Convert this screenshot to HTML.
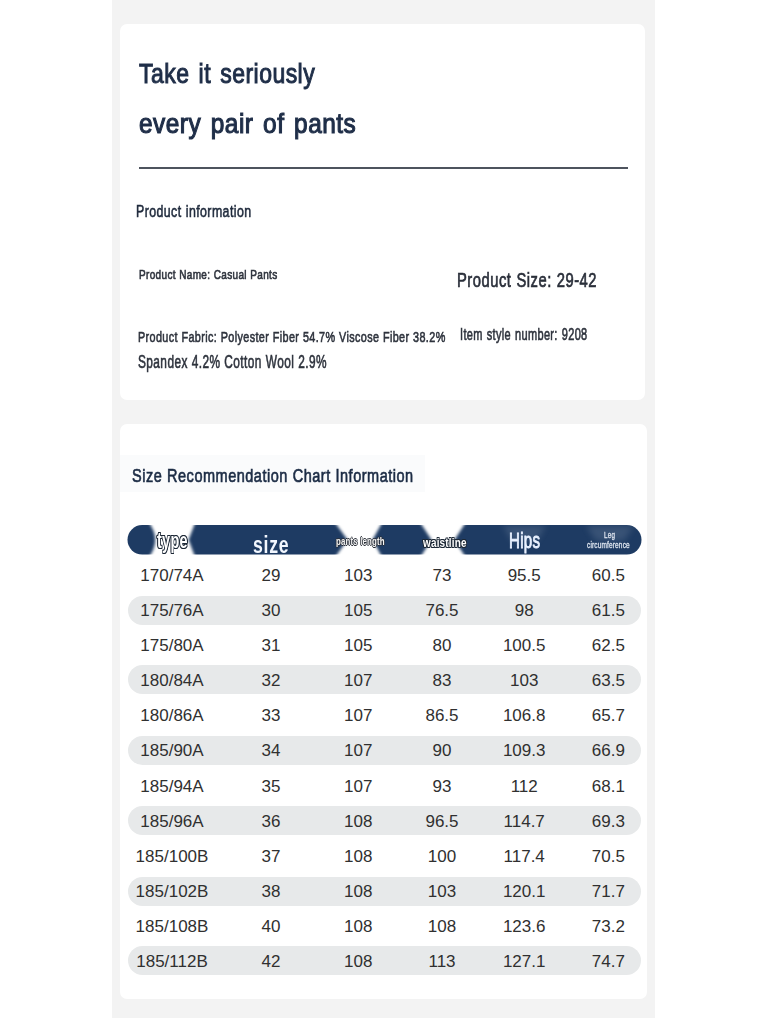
<!DOCTYPE html>
<html><head><meta charset="utf-8"><style>
html,body{margin:0;padding:0;}
body{width:768px;height:1024px;overflow:hidden;background:#ffffff;position:relative;font-family:"Liberation Sans",sans-serif;}
.abs{position:absolute;}
.col{position:absolute;left:112px;top:0;width:543px;height:1018px;background:#f3f3f3;}
.card{position:absolute;background:#ffffff;border-radius:7px;}
.t{position:absolute;white-space:nowrap;transform-origin:0 0;}
.pill{position:absolute;left:127.5px;width:513.5px;height:29px;border-radius:14.5px;background:#e7e9ea;}
.n{position:absolute;width:120px;text-align:center;font-size:17.0px;line-height:17.0px;color:#303030;white-space:nowrap;}
.bar{position:absolute;left:0;top:0;}
</style></head><body>
<div class="col"></div>
<div class="card" style="left:120px;top:23.5px;width:525px;height:376px;"></div>
<div class="card" style="left:120px;top:423.8px;width:527.4px;height:575.2px;"></div>
<div class="abs" style="left:120px;top:455px;width:305px;height:37px;background:#fafbfc;"></div>
<div class="abs" style="left:138.5px;top:167px;width:489.5px;height:2px;background:#4e545e;"></div>
<svg class="bar" width="768" height="1024" viewBox="0 0 768 1024">
<defs><filter id="bl" x="-50%" y="-50%" width="200%" height="200%"><feGaussianBlur stdDeviation="1.5"/></filter><filter id="bl2" x="-50%" y="-50%" width="200%" height="200%"><feGaussianBlur stdDeviation="3"/></filter><clipPath id="barclip"><rect x="127.5" y="525.1" width="514" height="29.4" rx="14.7"/></clipPath></defs>
<rect x="127.5" y="525.1" width="514" height="29.4" rx="14.7" fill="#1e3b63"/>
<g fill="#ffffff" filter="url(#bl)">
<path d="M148.5,522 L195.4,522 L188.6,539.8 L195.4,558 L148.5,558 Q162,539.8 148.5,522 Z"/>
<polygon points="334.6,522 382.5,522 372.5,539.8 382.5,558 334.6,558 347.5,539.8"/>
<polygon points="419.8,522 466,522 454.5,539.8 466,558 419.8,558 431.5,539.8"/>
</g>
<g clip-path="url(#barclip)"><g fill="#9aa8bb" opacity="0.22" filter="url(#bl2)">
<polygon points="503,525.5 546,525.5 537,541 512,541"/>
<polygon points="586,525.5 634,525.5 624,541 596,541"/>
</g></g>
</svg>
<div class="n" style="left:112.00px;top:566.61px">170/74A</div>
<div class="n" style="left:211.00px;top:566.61px">29</div>
<div class="n" style="left:298.20px;top:566.61px">103</div>
<div class="n" style="left:382.00px;top:566.61px">73</div>
<div class="n" style="left:464.20px;top:566.61px">95.5</div>
<div class="n" style="left:548.40px;top:566.61px">60.5</div>
<div class="pill" style="top:595.50px"></div>
<div class="n" style="left:112.00px;top:601.76px">175/76A</div>
<div class="n" style="left:211.00px;top:601.76px">30</div>
<div class="n" style="left:298.20px;top:601.76px">105</div>
<div class="n" style="left:382.00px;top:601.76px">76.5</div>
<div class="n" style="left:464.20px;top:601.76px">98</div>
<div class="n" style="left:548.40px;top:601.76px">61.5</div>
<div class="n" style="left:112.00px;top:636.91px">175/80A</div>
<div class="n" style="left:211.00px;top:636.91px">31</div>
<div class="n" style="left:298.20px;top:636.91px">105</div>
<div class="n" style="left:382.00px;top:636.91px">80</div>
<div class="n" style="left:464.20px;top:636.91px">100.5</div>
<div class="n" style="left:548.40px;top:636.91px">62.5</div>
<div class="pill" style="top:665.40px"></div>
<div class="n" style="left:112.00px;top:672.06px">180/84A</div>
<div class="n" style="left:211.00px;top:672.06px">32</div>
<div class="n" style="left:298.20px;top:672.06px">107</div>
<div class="n" style="left:382.00px;top:672.06px">83</div>
<div class="n" style="left:464.20px;top:672.06px">103</div>
<div class="n" style="left:548.40px;top:672.06px">63.5</div>
<div class="n" style="left:112.00px;top:707.21px">180/86A</div>
<div class="n" style="left:211.00px;top:707.21px">33</div>
<div class="n" style="left:298.20px;top:707.21px">107</div>
<div class="n" style="left:382.00px;top:707.21px">86.5</div>
<div class="n" style="left:464.20px;top:707.21px">106.8</div>
<div class="n" style="left:548.40px;top:707.21px">65.7</div>
<div class="pill" style="top:736.00px"></div>
<div class="n" style="left:112.00px;top:742.36px">185/90A</div>
<div class="n" style="left:211.00px;top:742.36px">34</div>
<div class="n" style="left:298.20px;top:742.36px">107</div>
<div class="n" style="left:382.00px;top:742.36px">90</div>
<div class="n" style="left:464.20px;top:742.36px">109.3</div>
<div class="n" style="left:548.40px;top:742.36px">66.9</div>
<div class="n" style="left:112.00px;top:777.51px">185/94A</div>
<div class="n" style="left:211.00px;top:777.51px">35</div>
<div class="n" style="left:298.20px;top:777.51px">107</div>
<div class="n" style="left:382.00px;top:777.51px">93</div>
<div class="n" style="left:464.20px;top:777.51px">112</div>
<div class="n" style="left:548.40px;top:777.51px">68.1</div>
<div class="pill" style="top:805.80px"></div>
<div class="n" style="left:112.00px;top:812.66px">185/96A</div>
<div class="n" style="left:211.00px;top:812.66px">36</div>
<div class="n" style="left:298.20px;top:812.66px">108</div>
<div class="n" style="left:382.00px;top:812.66px">96.5</div>
<div class="n" style="left:464.20px;top:812.66px">114.7</div>
<div class="n" style="left:548.40px;top:812.66px">69.3</div>
<div class="n" style="left:112.00px;top:847.81px">185/100B</div>
<div class="n" style="left:211.00px;top:847.81px">37</div>
<div class="n" style="left:298.20px;top:847.81px">108</div>
<div class="n" style="left:382.00px;top:847.81px">100</div>
<div class="n" style="left:464.20px;top:847.81px">117.4</div>
<div class="n" style="left:548.40px;top:847.81px">70.5</div>
<div class="pill" style="top:876.50px"></div>
<div class="n" style="left:112.00px;top:882.96px">185/102B</div>
<div class="n" style="left:211.00px;top:882.96px">38</div>
<div class="n" style="left:298.20px;top:882.96px">108</div>
<div class="n" style="left:382.00px;top:882.96px">103</div>
<div class="n" style="left:464.20px;top:882.96px">120.1</div>
<div class="n" style="left:548.40px;top:882.96px">71.7</div>
<div class="n" style="left:112.00px;top:918.11px">185/108B</div>
<div class="n" style="left:211.00px;top:918.11px">40</div>
<div class="n" style="left:298.20px;top:918.11px">108</div>
<div class="n" style="left:382.00px;top:918.11px">108</div>
<div class="n" style="left:464.20px;top:918.11px">123.6</div>
<div class="n" style="left:548.40px;top:918.11px">73.2</div>
<div class="pill" style="top:945.60px"></div>
<div class="n" style="left:112.00px;top:953.26px">185/112B</div>
<div class="n" style="left:211.00px;top:953.26px">42</div>
<div class="n" style="left:298.20px;top:953.26px">108</div>
<div class="n" style="left:382.00px;top:953.26px">113</div>
<div class="n" style="left:464.20px;top:953.26px">127.1</div>
<div class="n" style="left:548.40px;top:953.26px">74.7</div>
<div class="t" style="left:139.00px;top:59.91px;font-size:27.14px;line-height:27.14px;transform:scaleX(0.8485);color:#1f2e48;font-weight:normal;letter-spacing:0.02em;-webkit-text-stroke:1.0px #1f2e48;word-spacing:0.1em;">Take it seriously</div>
<div class="t" style="left:138.80px;top:111.33px;font-size:26.73px;line-height:26.73px;transform:scaleX(0.9127);color:#1f2e48;font-weight:normal;letter-spacing:0.02em;-webkit-text-stroke:1.1px #1f2e48;word-spacing:0.1em;">every pair of pants</div>
<div class="t" style="left:135.60px;top:203.03px;font-size:17.15px;line-height:17.15px;transform:scaleX(0.7206);color:#1f2a3c;font-weight:normal;letter-spacing:0.035em;-webkit-text-stroke:0.62px #1f2a3c;word-spacing:0.02em;">Product information</div>
<div class="t" style="left:139.00px;top:268.71px;font-size:12.82px;line-height:12.82px;transform:scaleX(0.7800);color:#2e333d;font-weight:normal;letter-spacing:0.035em;-webkit-text-stroke:0.62px #2e333d;word-spacing:0.02em;">Product Name: Casual Pants</div>
<div class="t" style="left:456.60px;top:270.49px;font-size:20.91px;line-height:20.91px;transform:scaleX(0.7060);color:#2a2f3a;font-weight:normal;letter-spacing:0.035em;-webkit-text-stroke:0.7px #2a2f3a;word-spacing:0.02em;">Product Size: 29-42</div>
<div class="t" style="left:138.00px;top:330.26px;font-size:14.96px;line-height:14.96px;transform:scaleX(0.7228);color:#2e333d;font-weight:normal;letter-spacing:0.035em;-webkit-text-stroke:0.62px #2e333d;word-spacing:0.02em;">Product Fabric: Polyester Fiber 54.7% Viscose Fiber 38.2%</div>
<div class="t" style="left:138.00px;top:354.03px;font-size:17.91px;line-height:17.91px;transform:scaleX(0.6627);color:#2e333d;font-weight:normal;letter-spacing:0.035em;-webkit-text-stroke:0.62px #2e333d;word-spacing:0.02em;">Spandex 4.2% Cotton Wool 2.9%</div>
<div class="t" style="left:460.00px;top:326.67px;font-size:15.83px;line-height:15.83px;transform:scaleX(0.6947);color:#2e333d;font-weight:normal;letter-spacing:0.03em;-webkit-text-stroke:0.62px #2e333d;word-spacing:0.06em;">Item style number: 9208</div>
<div class="t" style="left:132.20px;top:466.84px;font-size:18.89px;line-height:18.89px;transform:scaleX(0.7683);color:#1c2c45;font-weight:normal;letter-spacing:0.035em;-webkit-text-stroke:0.68px #1c2c45;word-spacing:0.02em;">Size Recommendation Chart Information</div>
<div class="t" style="left:157.00px;top:530.31px;font-size:22.32px;line-height:22.32px;transform:scaleX(0.6466);color:#ffffff;font-weight:bold;letter-spacing:0.02em;text-shadow:1px 0 0 #1d2836,-1px 0 0 #1d2836,0 1px 0 #1d2836,0 -1px 0 #1d2836,1px 1px 0 #1d2836,-1px -1px 0 #1d2836,1px -1px 0 #1d2836,-1px 1px 0 #1d2836;">type</div>
<div class="t" style="left:253.00px;top:533.00px;font-size:23.78px;line-height:23.78px;transform:scaleX(0.7441);color:#f2f7ff;font-weight:bold;letter-spacing:0.04em;">size</div>
<div class="t" style="left:336.00px;top:535.70px;font-size:11.06px;line-height:11.06px;transform:scaleX(0.7134);color:#f4f4f4;font-weight:bold;letter-spacing:0.02em;text-shadow:1px 0 0 #2a2f38,-1px 0 0 #2a2f38,0 1px 0 #2a2f38,0 -1px 0 #2a2f38;">pants length</div>
<div class="t" style="left:422.60px;top:535.54px;font-size:13.67px;line-height:13.67px;transform:scaleX(0.7280);color:#ffffff;font-weight:bold;letter-spacing:0.02em;text-shadow:1px 0 0 #1d2836,-1px 0 0 #1d2836,0 1px 0 #1d2836,0 -1px 0 #1d2836,1px 1px 0 #1d2836,-1px -1px 0 #1d2836,1px -1px 0 #1d2836,-1px 1px 0 #1d2836;">waistline</div>
<div class="t" style="left:508.80px;top:529.68px;font-size:22.61px;line-height:22.61px;transform:scaleX(0.6669);color:#e9f1ff;font-weight:normal;letter-spacing:0.02em;-webkit-text-stroke:0.9px #e9f1ff;">Hips</div>
<div class="t" style="left:604.00px;top:531.04px;font-size:8.70px;line-height:8.70px;transform:scaleX(0.7179);color:#dfe6f0;font-weight:normal;letter-spacing:0.04em;-webkit-text-stroke:0.3px #dfe6f0;">Leg</div>
<div class="t" style="left:586.60px;top:541.49px;font-size:9.21px;line-height:9.21px;transform:scaleX(0.7115);color:#dfe6f0;font-weight:normal;letter-spacing:0.02em;-webkit-text-stroke:0.3px #dfe6f0;">circumference</div>
</body></html>
